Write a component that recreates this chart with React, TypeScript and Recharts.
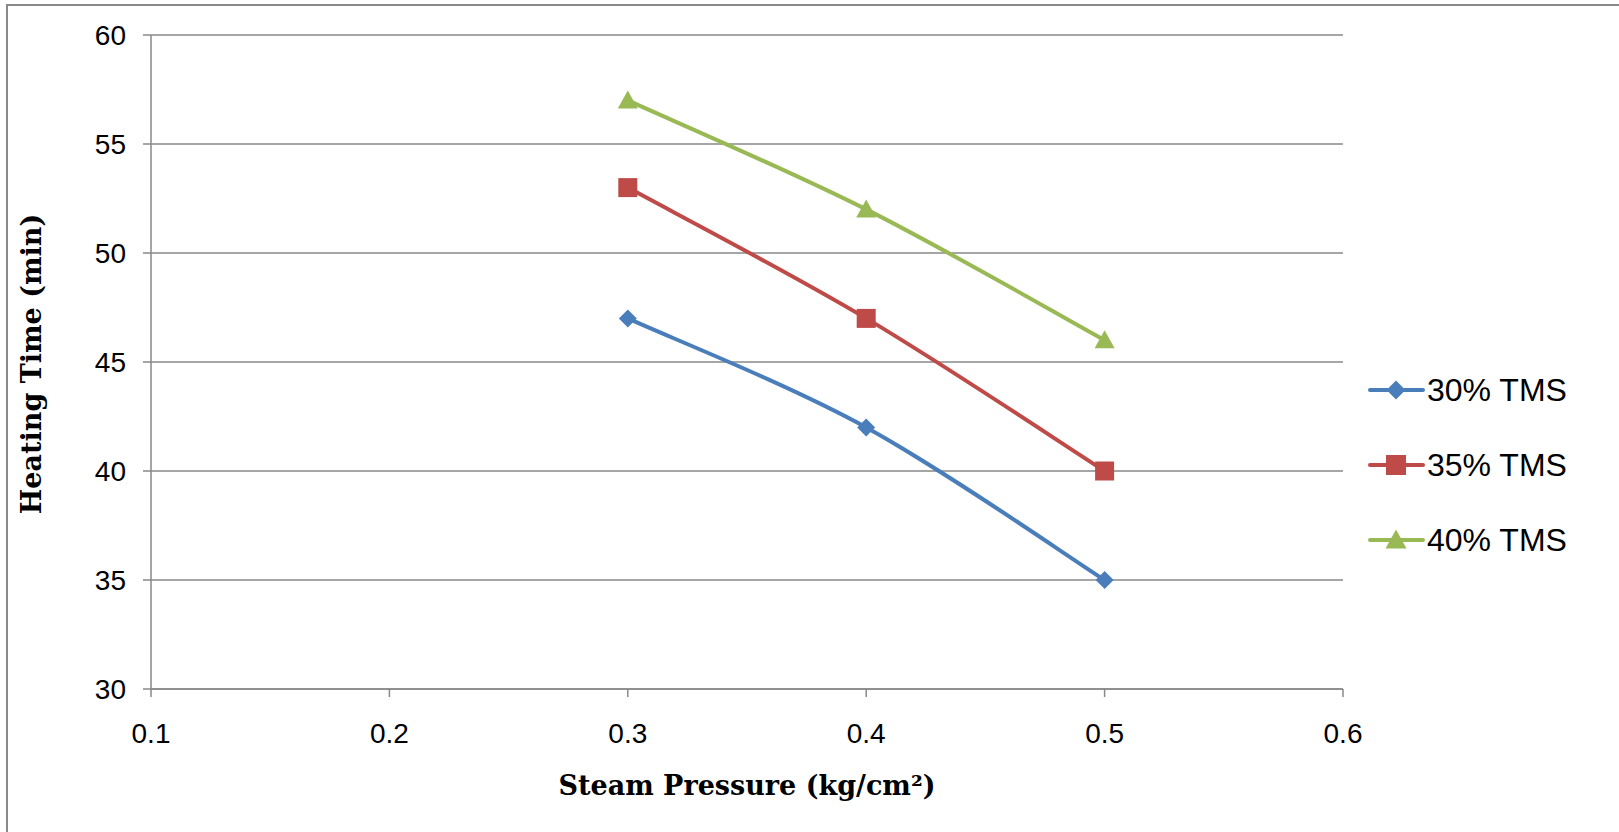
import React from 'react';
import { LineChart, Line, XAxis, YAxis, CartesianGrid, Legend } from 'recharts';

// Steam pressure (kg/cm²) on the x axis
const pressures = [0.3, 0.4, 0.5];
// Heating time (min) for each TMS level
const tms30 = [47, 42, 35];
const tms35 = [53, 47, 40];
const tms40 = [57, 52, 46];

const seriesNames = ['30% TMS', '35% TMS', '40% TMS'];
const xTicks = [0.1, 0.2, 0.3, 0.4, 0.5, 0.6];
const yTicks = [30, 35, 40, 45, 50, 55, 60];

const xTitle = 'Steam Pressure (kg/cm²)';
const yTitle = 'Heating Time (min)';

const data = pressures.map((p, i) => ({
  p,
  s30: tms30[i],
  s35: tms35[i],
  s40: tms40[i],
}));

const BLUE = '#4A7EBB';
const RED = '#BE4B48';
const GREEN = '#98B954';
const GRID = '#898989';

const TICK_FONT = '"Liberation Sans", Arial, sans-serif';
const TITLE_FONT = '"DejaVu Serif", serif';

// Smooth curve through the points (Catmull-Rom style Bezier segments)
function smoothCurve(context: any) {
  let pts: number[][] = [];
  return {
    areaStart() {},
    areaEnd() {},
    lineStart() {
      pts = [];
    },
    point(x: number, y: number) {
      pts.push([+x, +y]);
    },
    lineEnd() {
      if (!pts.length) return;
      context.moveTo(pts[0][0], pts[0][1]);
      const n = pts.length;
      for (let i = 0; i < n - 1; i++) {
        const p0 = pts[Math.max(0, i - 1)];
        const p1 = pts[i];
        const p2 = pts[i + 1];
        const p3 = pts[Math.min(n - 1, i + 2)];
        const c1x = p1[0] + (p2[0] - p0[0]) / 6;
        const c1y = p1[1] + (p2[1] - p0[1]) / 6;
        const c2x = p2[0] - (p3[0] - p1[0]) / 6;
        const c2y = p2[1] - (p3[1] - p1[1]) / 6;
        context.bezierCurveTo(c1x, c1y, c2x, c2y, p2[0], p2[1]);
      }
    },
  };
}

type Shape = 'diamond' | 'square' | 'triangle';

function markerPath(shape: Shape, cx: number, cy: number, k = 1) {
  if (shape === 'diamond') {
    const r = 9 * k;
    return `M${cx},${cy - r}L${cx + r},${cy}L${cx},${cy + r}L${cx - r},${cy}Z`;
  }
  if (shape === 'square') {
    const h = 9.5 * k;
    return `M${cx - h},${cy - h}L${cx + h},${cy - h}L${cx + h},${cy + h}L${cx - h},${cy + h}Z`;
  }
  const w = 10 * k;
  return `M${cx},${cy - 10 * k}L${cx + w},${cy + 8 * k}L${cx - w},${cy + 8 * k}Z`;
}

const makeDot = (shape: Shape, color: string) => (props: any) => {
  const { cx, cy, index } = props;
  if (cx == null || cy == null) return <g key={index} />;
  return <path key={index} d={markerPath(shape, cx, cy)} fill={color} stroke="none" />;
};

const legendItems: { name: string; color: string; shape: Shape }[] = [
  { name: seriesNames[0], color: BLUE, shape: 'diamond' },
  { name: seriesNames[1], color: RED, shape: 'square' },
  { name: seriesNames[2], color: GREEN, shape: 'triangle' },
];

const renderLegend = () => (
  <div>
    {legendItems.map((it) => (
      <div key={it.name} style={{ display: 'flex', alignItems: 'center', height: 75 }}>
        <svg width={58} height={26} style={{ display: 'block' }}>
          <line x1={3} y1={13} x2={56} y2={13} stroke={it.color} strokeWidth={4} strokeLinecap="round" />
          <path d={markerPath(it.shape, 29, 13, 1.05)} fill={it.color} />
        </svg>
        <span style={{ fontFamily: TICK_FONT, fontSize: 32, color: '#000', marginLeft: 2, lineHeight: 1 }}>
          {it.name}
        </span>
      </div>
    ))}
  </div>
);

export default function App() {
  return (
    <div
      style={{
        position: 'absolute',
        left: 0,
        top: 0,
        width: 1619,
        height: 832,
        overflow: 'hidden',
        background: '#fff',
      }}
    >
      <div
        style={{
          position: 'absolute',
          left: 6,
          top: 4,
          width: 1700,
          height: 900,
          borderTop: `2px solid ${GRID}`,
          borderLeft: `2px solid ${GRID}`,
        }}
      />
      <div style={{ position: 'absolute', left: 0, top: 0 }}>
        <LineChart
          width={1619}
          height={832}
          data={data}
          margin={{ top: 35, right: 276, bottom: 83, left: 0 }}
        >
          <CartesianGrid vertical={false} stroke={GRID} strokeWidth={1.5} />
          <XAxis
            dataKey="p"
            type="number"
            domain={[0.1, 0.6]}
            ticks={xTicks}
            tickFormatter={(v: number) => v.toFixed(1)}
            height={60}
            tickSize={8}
            tickMargin={26}
            axisLine={{ stroke: GRID, strokeWidth: 1.5 }}
            tickLine={{ stroke: GRID, strokeWidth: 1.5 }}
            tick={{ fontFamily: TICK_FONT, fontSize: 28, fill: '#000' }}
            allowDataOverflow
            label={{
              value: xTitle,
              content: (p: any) => {
                const vb = p.viewBox || {};
                return (
                  <text
                    x={vb.x + vb.width / 2}
                    y={vb.y + 106}
                    textAnchor="middle"
                    fontFamily={TITLE_FONT}
                    fontWeight="bold"
                    fontSize={27}
                    fill="#000"
                  >
                    {xTitle}
                  </text>
                );
              },
            }}
          />
          <YAxis
            type="number"
            domain={[30, 60]}
            ticks={yTicks}
            width={151}
            tickSize={8}
            tickMargin={17}
            axisLine={{ stroke: GRID, strokeWidth: 1.5 }}
            tickLine={{ stroke: GRID, strokeWidth: 1.5 }}
            tick={{ fontFamily: TICK_FONT, fontSize: 28, fill: '#000' }}
            allowDataOverflow
            label={{
              value: yTitle,
              content: (p: any) => {
                const vb = p.viewBox || {};
                const cx = 41;
                const cy = vb.y + vb.height / 2 + 2;
                return (
                  <text
                    x={cx}
                    y={cy}
                    transform={`rotate(-90, ${cx}, ${cy})`}
                    textAnchor="middle"
                    fontFamily={TITLE_FONT}
                    fontWeight="bold"
                    fontSize={27}
                    fill="#000"
                  >
                    {yTitle}
                  </text>
                );
              },
            }}
          />
          <Legend
            layout="vertical"
            align="center"
            verticalAlign="middle"
            content={renderLegend}
            wrapperStyle={{ left: 1367, top: 352, width: 250, height: 225 }}
          />
          <Line
            name={seriesNames[0]}
            dataKey="s30"
            type={smoothCurve as any}
            stroke={BLUE}
            strokeWidth={4}
            dot={makeDot('diamond', BLUE)}
            activeDot={false}
            isAnimationActive={false}
          />
          <Line
            name={seriesNames[1]}
            dataKey="s35"
            type={smoothCurve as any}
            stroke={RED}
            strokeWidth={4}
            dot={makeDot('square', RED)}
            activeDot={false}
            isAnimationActive={false}
          />
          <Line
            name={seriesNames[2]}
            dataKey="s40"
            type={smoothCurve as any}
            stroke={GREEN}
            strokeWidth={4}
            dot={makeDot('triangle', GREEN)}
            activeDot={false}
            isAnimationActive={false}
          />
        </LineChart>
      </div>
    </div>
  );
}
